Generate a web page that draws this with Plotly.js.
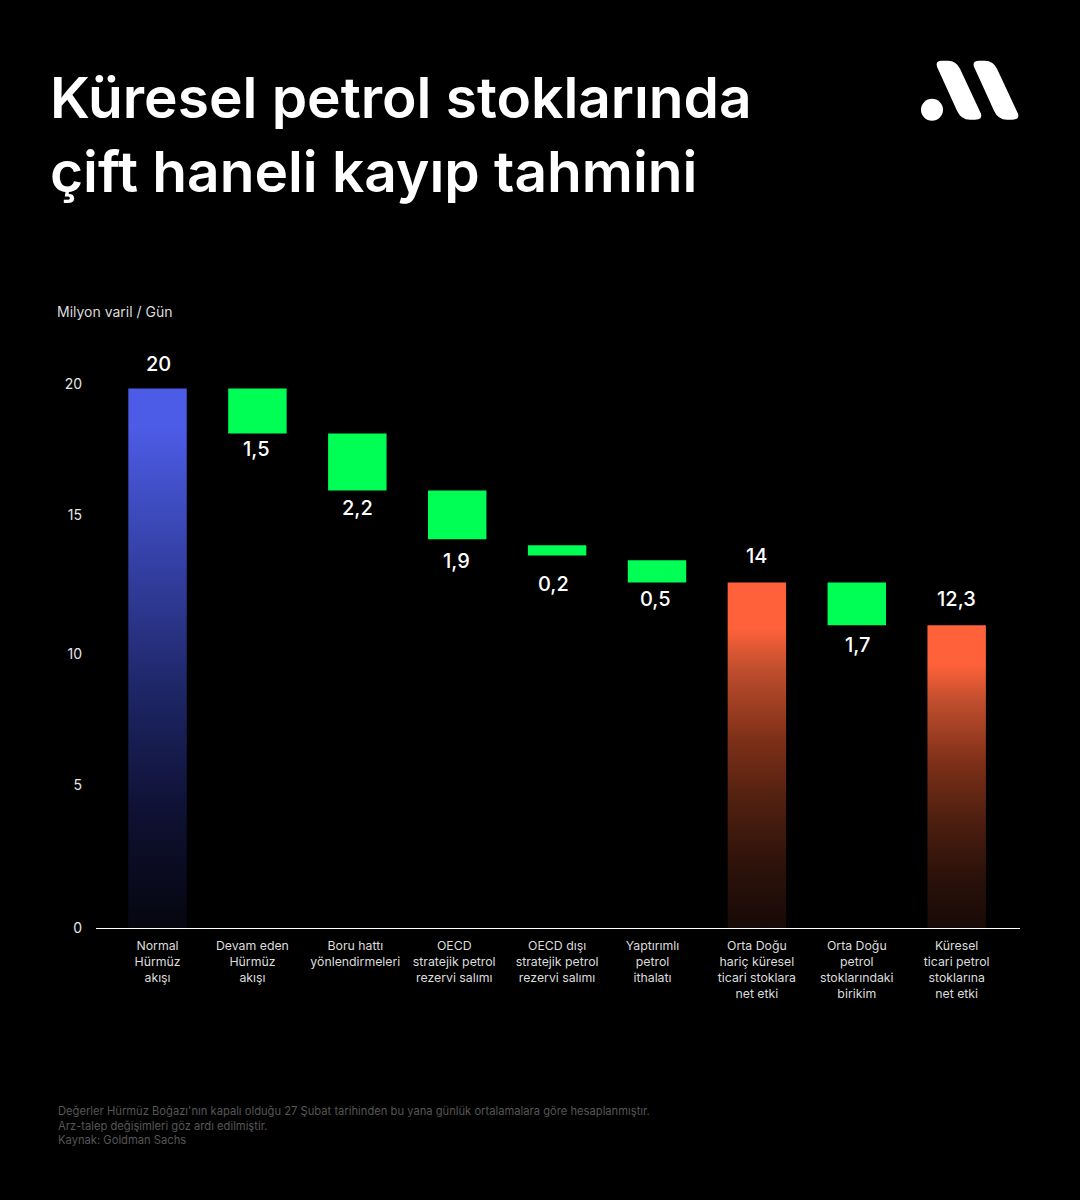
<!DOCTYPE html>
<html><head><meta charset="utf-8">
<script src="https://cdn.plot.ly/plotly-3.0.1.min.js"></script>
<style>html,body{margin:0;padding:0;background:#000;overflow:hidden}#c{width:1080px;height:1200px}</style>
</head><body><div id="c"></div>
<script>
const categories = ["Normal<br>Hürmüz<br>akışı","Devam eden<br>Hürmüz<br>akışı","Boru hattı<br>yönlendirmeleri<br> ","OECD<br>stratejik petrol<br>rezervi salımı","OECD dışı<br>stratejik petrol<br>rezervi salımı","Yaptırımlı<br>petrol<br>ithalatı","Orta Doğu<br>hariç küresel<br>ticari stoklara<br>net etki","Orta Doğu<br>petrol<br>stoklarındaki<br>birikim","Küresel<br>ticari petrol<br>stoklarına<br>net etki"];
const valueLabels = ["20","1,5","2,2","1,9","0,2","0,5","14","1,7","12,3"];
const barTops  = [20, 20, 18.33, 16.22, 14.19, 13.63, 12.81, 12.81, 11.22];
const barBases = [0, 18.33, 16.22, 14.41, 13.81, 12.81, 0, 11.22, 0];
const barKinds = ["blue","green","green","green","green","green","orange","green","orange"];
const yTickText = ["0","5","10","15","20"];
const yTickPos  = [0, 5.3, 10.15, 15.3, 20.15];
const xTickNudge = [0, -0.05, -0.02, -0.03, 0, -0.045, 0, 0, 0];
const labelShift = [-24, 15, 18, 22, 29, 17, -26, 20, -26];
const labelNudge = [1, -1, 0, -1, -4, -1, 0, 1, 0];
const footer = "Değerler Hürmüz Boğazı'nın kapalı olduğu 27 Şubat tarihinden bu yana günlük ortalamalara göre hesaplanmıştır.<br>Arz-talep değişimleri göz ardı edilmiştir.<br>Kaynak: Goldman Sachs";
const FONT = "Inter, 'Noto Sans', sans-serif";
const W = 1080, H = 1200, L = 96, R = 1020, T = 374.5, B = 928;
const px = x => (x - L) / (R - L), py = y => (B - y) / (B - T);
const xs = categories.map((_, i) => i);
const solid = {blue:"#4c5ce6", green:"#00ff55", orange:"#ff623a"};

function logoStroke(d){
  const P=(x,y)=>px(x+d)+","+py(y);
  return "M"+P(937,66)+" Q"+P(935,60)+" "+P(942,60)+" L"+P(948,60)+" Q"+P(956,60)+" "+P(960,68)+
         " L"+P(981,113)+" Q"+P(983,119)+" "+P(975,119)+" L"+P(970,119)+" Q"+P(961,119)+" "+P(957,110)+" Z";
}
const logoShape = p => ({type:"path",xref:"paper",yref:"paper",path:p,fillcolor:"#fff",line:{width:0}});

const annotations = valueLabels.map((t,i)=>({
  x:xs[i], y: labelShift[i] < 0 ? barTops[i] : barBases[i], xref:"x", yref:"y",
  text:t, showarrow:false, yshift:-labelShift[i], xshift:labelNudge[i], xanchor:"center", yanchor:"middle",
  font:{family:FONT,size:20,color:"#fff",weight:500}
}));
annotations.push({xref:"paper",yref:"paper",x:px(55),y:py(311),xanchor:"left",yanchor:"middle",showarrow:false,
  text:"Milyon varil / Gün",font:{family:FONT,size:14,color:"#dcdcdc"}});
annotations.push({xref:"paper",yref:"paper",x:px(56),y:py(1126),xanchor:"left",yanchor:"middle",align:"left",showarrow:false,
  text:footer,font:{family:FONT,size:11.2,color:"#565656"}});

const traces=[{type:"bar",x:xs,y:barTops.map((t,i)=>t-barBases[i]),base:barBases,width:0.585,
  marker:{color:barKinds.map(k=>solid[k]),line:{width:0}},hoverinfo:"skip",cliponaxis:false}];

const layout={width:W,height:H,paper_bgcolor:"#000",plot_bgcolor:"#000",showlegend:false,
  margin:{l:L,r:W-R,t:T,b:H-B,pad:0},
  title:{text:"Küresel petrol stoklarında<br>çift haneli kayıp tahmini",x:50/W,xanchor:"left",xref:"container",y:1-118/H,yanchor:"top",yref:"container",
    font:{family:FONT,size:56.8,color:"#fff",weight:600}},
  xaxis:{range:[-0.616,8.634],tickmode:"array",tickvals:xs.map((v,i)=>v+xTickNudge[i]),ticktext:categories,tickangle:0,
    showline:true,linecolor:"#fff",linewidth:1,showgrid:false,zeroline:false,ticks:"",ticklabelstandoff:6,
    tickfont:{family:FONT,size:12.3,color:"#dcdcdc"},automargin:false},
  yaxis:{range:[0,20.5],tickmode:"array",tickvals:yTickPos,ticktext:yTickText,showgrid:false,zeroline:false,showline:false,ticks:"",
    ticklabelstandoff:13,tickfont:{family:FONT,size:14,color:"#e6e6e6"},automargin:false},
  shapes:[
    {type:"circle",xref:"paper",yref:"paper",x0:px(921),x1:px(943),y0:py(120),y1:py(98),fillcolor:"#fff",line:{width:0}},
    logoShape(logoStroke(0)),logoShape(logoStroke(37))
  ],
  annotations
};

Plotly.newPlot("c",traces,layout,{staticPlot:true,displayModeBar:false}).then(gd=>{
  const svg=gd.querySelector(".main-svg"), ns="http://www.w3.org/2000/svg";
  const defs=svg.querySelector("defs")||svg.insertBefore(document.createElementNS(ns,"defs"),svg.firstChild);
  const grad=(id,stops)=>{const g=document.createElementNS(ns,"linearGradient");
    g.setAttribute("id",id);g.setAttribute("x1","0");g.setAttribute("y1","0");g.setAttribute("x2","0");g.setAttribute("y2","1");
    stops.forEach(([o,c])=>{const s=document.createElementNS(ns,"stop");s.setAttribute("offset",o);s.setAttribute("stop-color",c);g.appendChild(s);});
    defs.appendChild(g);};
  grad("gBlue",[[0,"#4c5ce6"],[0.07,"#4c5ce6"],[0.578,"#1c2462"],[0.8,"#0e1030"],[1,"#06060f"]]);
  grad("gOrange",[[0,"#ff623a"],[0.13,"#ff623a"],[0.25,"#c04e2e"],[0.45,"#7f3018"],[0.64,"#4e1f10"],[0.83,"#2b110a"],[1,"#170a07"]]);
  gd.querySelectorAll(".barlayer .point path").forEach((p,i)=>{
    if(barKinds[i]==="blue")p.style.fill="url(#gBlue)";
    if(barKinds[i]==="orange")p.style.fill="url(#gOrange)";
  });
});
</script></body></html>
